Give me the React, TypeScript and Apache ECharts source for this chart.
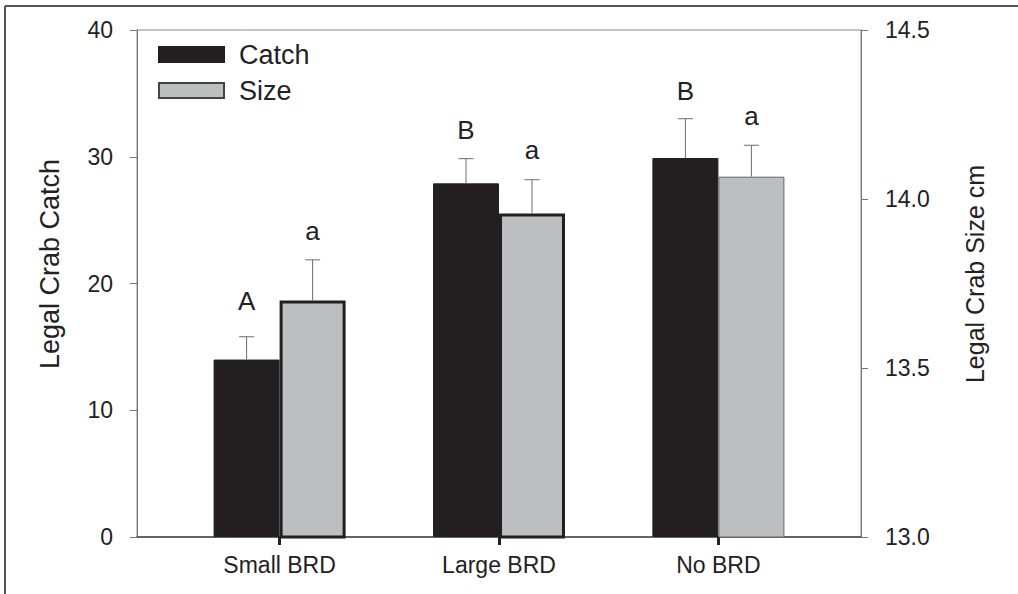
import React, { useEffect, useRef } from "react";
import * as echarts from "echarts";

const categories = ["Small BRD", "Large BRD", "No BRD"];
const categoryPositions = [1, 2, 3];
const catchMean = [14.0, 27.9, 29.9];
const catchErr = [1.8, 1.95, 3.1];
const catchLetters = ["A", "B", "B"];
const sizeMean = [13.7, 13.957, 14.066];
const sizeErr = [0.12, 0.1, 0.093];
const sizeLetters = ["a", "a", "a"];
const leftTicks = { min: 0, max: 40, interval: 10 };
const rightTicks = { min: 13, max: 14.5, interval: 0.5 };

const FONT = "'Liberation Sans', Arial, Helvetica, sans-serif";
const BLACK = "#231f20";
const GRAY = "#bcbec0";

export default function App() {
  const ref = useRef<HTMLDivElement>(null);
  useEffect(() => {
    if (!ref.current) return;
    const chart = echarts.init(ref.current, null, { renderer: "svg" });

    const errRender = (means: number[], errs: number[], letters: string[], offset: number, gaps: number[]) =>
      (params: any, api: any) => {
        const i = params.dataIndex;
        const x = categoryPositions[i];
        const p0 = api.coord([x, means[i]]);
        const p1 = api.coord([x, means[i] + errs[i]]);
        const cx = p0[0] + offset;
        return {
          type: "group",
          children: [
            { type: "line", shape: { x1: cx, y1: p0[1], x2: cx, y2: p1[1] }, style: { stroke: "#6d6d6d", lineWidth: 1 } },
            { type: "line", shape: { x1: cx - 7.5, y1: p1[1], x2: cx + 7.5, y2: p1[1] }, style: { stroke: "#6d6d6d", lineWidth: 1 } },
            {
              type: "text",
              x: cx,
              y: p1[1] - gaps[i],
              style: { text: letters[i], fill: "#222", font: `26px ${FONT}`, align: "center", verticalAlign: "bottom" },
            },
          ],
        };
      };

    chart.setOption({
      animation: false,
      textStyle: { fontFamily: FONT },
      grid: { left: 137, right: 157, top: 30, bottom: 57, show: true, borderColor: "#8a8a8a", borderWidth: 1 },
      legend: {
        data: ["Catch", "Size"],
        orient: "vertical",
        left: 153,
        top: 36,
        itemWidth: 65,
        itemHeight: 15,
        itemGap: 9,
        icon: "rect",
        textStyle: { fontSize: 27, color: "#222", fontFamily: FONT, padding: [0, 0, 0, 10] },
      },
      xAxis: {
        type: "value",
        min: 0.35,
        max: 3.65,
        splitLine: { show: false },
        axisLine: { show: true, lineStyle: { color: "#444", width: 1.5 } },
        axisTick: { show: true, customValues: categoryPositions, length: 8, lineStyle: { color: "#222", width: 3 } },
        axisLabel: {
          customValues: categoryPositions,
          formatter: (v: number) => categories[Math.round(v) - 1] ?? "",
          fontSize: 23,
          color: "#222",
          fontFamily: FONT,
          margin: 16,
        },
      },
      yAxis: [
        {
          type: "value",
          position: "left",
          min: leftTicks.min,
          max: leftTicks.max,
          interval: leftTicks.interval,
          splitLine: { show: false },
          axisLine: { show: true, lineStyle: { color: "#777", width: 1 } },
          axisTick: { show: true, length: 7, lineStyle: { color: "#777" } },
          axisLabel: { fontSize: 23, color: "#222", fontFamily: FONT, margin: 24 },
        },
        {
          type: "value",
          position: "right",
          min: rightTicks.min,
          max: rightTicks.max,
          interval: rightTicks.interval,
          splitLine: { show: false },
          axisLine: { show: true, lineStyle: { color: "#777", width: 1 } },
          axisTick: { show: true, length: 7, lineStyle: { color: "#777" } },
          axisLabel: { fontSize: 23, color: "#222", fontFamily: FONT, margin: 24, formatter: (v: number) => v.toFixed(1) },
        },
      ],
      series: [
        {
          name: "Catch",
          type: "bar",
          yAxisIndex: 0,
          barWidth: 66,
          barGap: "0%",
          clip: true,
          itemStyle: { color: BLACK, borderColor: BLACK, borderWidth: 1 },
          data: catchMean.map((v, i) => [categoryPositions[i], v]),
        },
        {
          name: "Size",
          type: "bar",
          yAxisIndex: 1,
          barWidth: 66,
          barGap: "0%",
          clip: true,
          itemStyle: { color: GRAY, borderColor: "#444", borderWidth: 1 },
          data: sizeMean.map((v, i) => ({
            value: [categoryPositions[i], v],
            itemStyle: i < 2 ? { borderColor: BLACK, borderWidth: 3 } : { borderColor: "#666", borderWidth: 1 },
          })),
        },
        {
          type: "custom",
          yAxisIndex: 0,
          z: 5,
          clip: false,
          renderItem: errRender(catchMean, catchErr, catchLetters, -33, [23, 16, 15]),
          data: catchMean.map((v, i) => [categoryPositions[i], v]),
        },
        {
          type: "custom",
          yAxisIndex: 1,
          z: 5,
          clip: false,
          renderItem: errRender(sizeMean, sizeErr, sizeLetters, 33, [16, 17, 16]),
          data: sizeMean.map((v, i) => [categoryPositions[i], v]),
        },
      ],
      graphic: [
        { type: "line", shape: { x1: 5, y1: 6, x2: 1018, y2: 6 }, style: { stroke: "#555", lineWidth: 2 } },
        { type: "line", shape: { x1: 5, y1: 6, x2: 5, y2: 594 }, style: { stroke: "#555", lineWidth: 2 } },
        {
          type: "text",
          x: 50,
          y: 264,
          rotation: Math.PI / 2,
          style: { text: "Legal Crab Catch", font: `27px ${FONT}`, fill: "#222", align: "center", verticalAlign: "middle" },
        },
        {
          type: "text",
          x: 975,
          y: 274,
          rotation: Math.PI / 2,
          style: { text: "Legal Crab Size cm", font: `25px ${FONT}`, fill: "#222", align: "center", verticalAlign: "middle" },
        },
      ],
    });
    return () => chart.dispose();
  }, []);
  return <div ref={ref} style={{ position: "absolute", left: 0, top: 0, width: 1018, height: 594 }} />;
}
